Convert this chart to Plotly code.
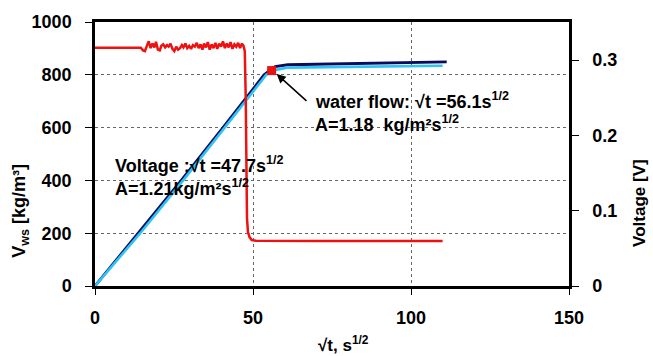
import plotly.graph_objects as go

# Wetting-front mass (left axis) and sensor voltage (right axis) vs sqrt(time)
navy_x = [0, 13.8, 27.3, 40.5, 53.5, 57.0, 61.0, 70, 90, 111.3]
navy_y = [0, 200, 400, 600, 800, 831, 838, 840, 845, 849]

cyan_x = [0, 14.3, 27.9, 41.0, 54.2, 56.4, 60.7, 80, 110]
cyan_y = [0, 200, 400, 600, 800, 816, 827, 830, 834]

volt_x = [0, 14.5, 15.2, 15.8, 16.5, 17.0, 17.6, 18.2, 18.8, 19.3, 19.9, 20.5,
          21.0, 21.6, 22.2, 22.8, 23.3, 23.9, 24.5, 25.1, 25.7, 26.3, 26.9,
          27.5, 28.0, 28.6, 29.2, 29.8, 30.4, 31.0, 31.6, 32.2, 32.8, 33.4,
          34.0, 34.5, 35.1, 35.7, 36.3, 36.9, 37.5, 38.1, 38.7, 39.3, 39.9,
          40.5, 41.1, 41.7, 42.3, 42.9, 43.5, 44.1, 44.7, 45.3, 45.9, 46.5,
          47.0, 47.4, 47.7, 47.9, 48.1, 48.4, 48.9, 49.6, 51, 70, 90, 110]
volt_y = [0.3165, 0.3165, 0.313, 0.312, 0.320, 0.325, 0.316, 0.322, 0.317,
          0.3245, 0.314, 0.313, 0.319, 0.321, 0.317, 0.320, 0.318, 0.322,
          0.315, 0.312, 0.318, 0.314, 0.316, 0.320, 0.317, 0.322, 0.316,
          0.319, 0.315, 0.320, 0.318, 0.323, 0.316, 0.321, 0.314, 0.322,
          0.317, 0.324, 0.314, 0.321, 0.316, 0.323, 0.315, 0.322, 0.318,
          0.325, 0.316, 0.322, 0.317, 0.324, 0.315, 0.321, 0.318, 0.323,
          0.316, 0.322, 0.319, 0.312, 0.25, 0.15, 0.09, 0.072, 0.065, 0.061,
          0.0600, 0.0598, 0.0597, 0.0597]

flow_point_x = [55.9]
flow_point_y = [816]

x_ticks = [0, 50, 100, 150]
y_ticks = [0, 200, 400, 600, 800, 1000]
y2_ticks = [0, 0.1, 0.2, 0.3]
y2_labels = ["0", "0.1", "0.2", "0.3"]

FONT = "Liberation Sans"

fig = go.Figure()
fig.add_trace(go.Scatter(x=volt_x, y=volt_y, mode="lines", yaxis="y2",
                         line=dict(color="#ee1111", width=2.5)))
fig.add_trace(go.Scatter(x=navy_x, y=navy_y, mode="lines",
                         line=dict(color="#0b0b5c", width=2.8)))
fig.add_trace(go.Scatter(x=cyan_x, y=cyan_y, mode="lines",
                         line=dict(color="#2cc4f4", width=2.6)))
fig.add_trace(go.Scatter(x=flow_point_x, y=flow_point_y, mode="markers",
                         marker=dict(symbol="square", size=9, color="#ee1111")))

tickfont = dict(family=FONT, size=18, color="black", weight="bold")
grid = dict(showgrid=True, gridcolor="#666", gridwidth=1, griddash="dot")

fig.update_layout(
    width=653, height=356,
    margin=dict(l=95, r=84, t=16, b=70),
    paper_bgcolor="white", plot_bgcolor="white",
    showlegend=False,
    xaxis=dict(range=[0, 150], tickvals=x_ticks, **grid,
               showline=True, linecolor="black", linewidth=2.5, mirror=True,
               ticks="outside", ticklen=6, tickcolor="black",
               ticklabelstandoff=8, tickfont=tickfont, zeroline=False),
    yaxis=dict(range=[0, 1000], tickvals=y_ticks, **grid,
               showline=True, linecolor="black", linewidth=2.5,
               ticks="outside", ticklen=7, tickcolor="black",
               ticklabelstandoff=10, tickfont=tickfont, zeroline=False),
    yaxis2=dict(range=[0, 0.3507], tickvals=y2_ticks, ticktext=y2_labels,
                overlaying="y", side="right", showgrid=False,
                showline=True, linecolor="black", linewidth=2.5,
                ticks="outside", ticklen=7, tickcolor="black",
                ticklabelstandoff=10, tickfont=tickfont, zeroline=False),
)

label_font = dict(family=FONT, size=18, color="black", weight="bold")
title_font = dict(family=FONT, size=17, color="black", weight="bold")

annotations = [
    dict(x=5.8, y=462, xref="x", yref="y", xanchor="left", yanchor="middle",
         text="Voltage :√t =47.7s<sup>1/2</sup>", showarrow=False, font=label_font),
    dict(x=5.8, y=373, xref="x", yref="y", xanchor="left", yanchor="middle",
         text="A=1.21kg/m²s<sup>1/2</sup>", showarrow=False, font=label_font),
    dict(x=69.0, y=703, xref="x", yref="y", xanchor="left", yanchor="middle",
         text="water flow: √t =56.1s<sup>1/2</sup>", showarrow=False, font=label_font),
    dict(x=69.0, y=614, xref="x", yref="y", xanchor="left", yanchor="middle",
         text="A=1.18&nbsp; kg/m²s<sup>1/2</sup>", showarrow=False, font=label_font),
    dict(x=57.5, y=803, xref="x", yref="y", ax=67.4, ay=696, axref="x", ayref="y",
         text="", showarrow=True, arrowhead=2, arrowsize=1.2, arrowwidth=1.5,
         arrowcolor="black"),
    dict(x=21, y=209, xref="paper", yref="paper", text="V<sub>ws</sub> [kg/m³]",
         showarrow=False, textangle=-90, font=dict(title_font, size=18),
         xanchor="center", yanchor="middle"),
    dict(x=640, y=201, xref="paper", yref="paper", text="Voltage [V]",
         showarrow=False, textangle=-90, font=title_font,
         xanchor="center", yanchor="middle"),
    dict(x=343, y=345, xref="paper", yref="paper", text="√t, s<sup>1/2</sup>",
         showarrow=False, font=title_font, xanchor="center", yanchor="middle"),
]

# Convert the pixel-placed titles to paper coordinates
pl, pr, pt, pb = 95, 653 - 84, 16, 356 - 70
for a in annotations:
    if a["xref"] == "paper":
        a["x"] = (a["x"] - pl) / (pr - pl)
        a["y"] = (pb - a["y"]) / (pb - pt)
fig.update_layout(annotations=annotations)

fig.write_html("out.html")
